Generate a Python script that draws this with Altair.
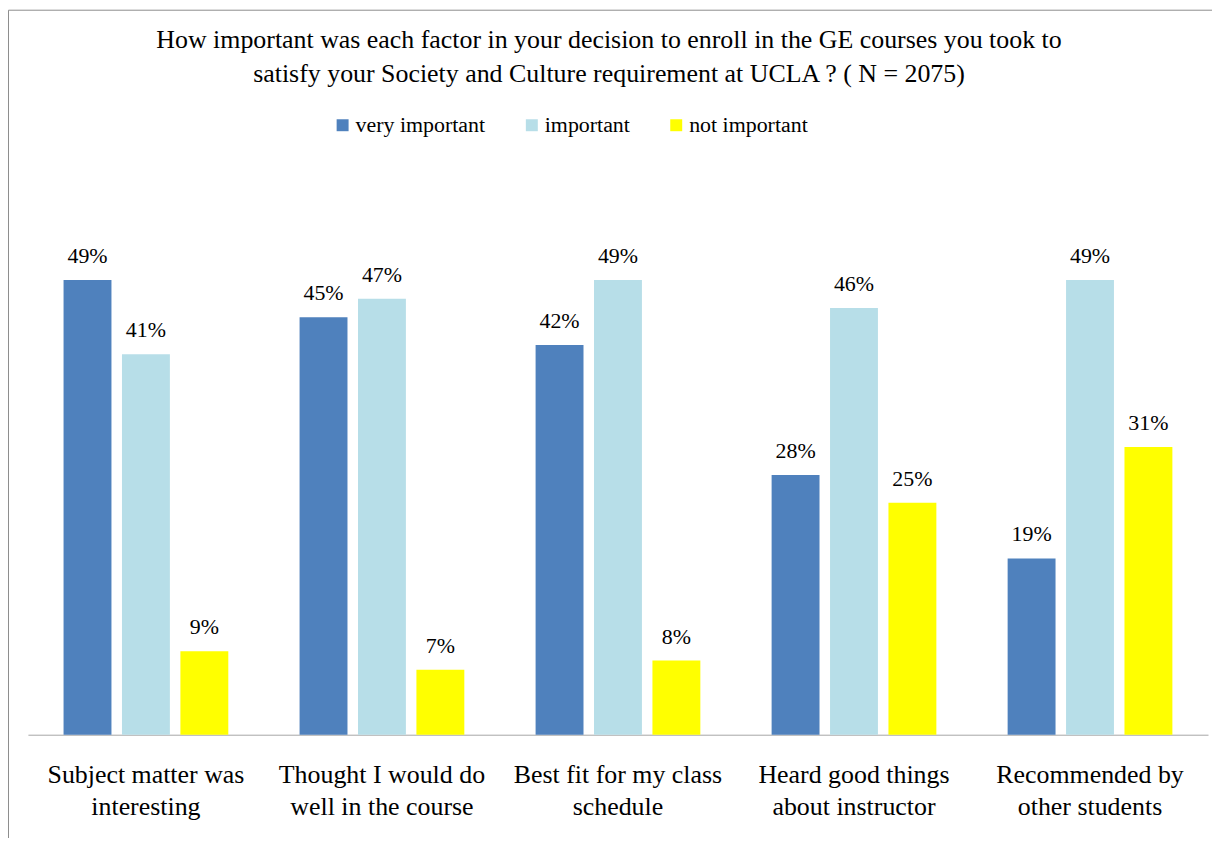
import altair as alt
import pandas as pd

categories = [
    "Subject matter was\ninteresting",
    "Thought I would do\nwell in the course",
    "Best fit for my class\nschedule",
    "Heard good things\nabout instructor",
    "Recommended by\nother students",
]
series = ["very important", "important", "not important"]
very_important = [49, 45, 42, 28, 19]
important = [41, 47, 49, 46, 49]
not_important = [9, 7, 8, 25, 31]
colors = ["#4F81BD", "#B7DEE8", "#FFFF00"]
title_lines = [
    "How important was each factor in your decision to enroll in the GE courses you took to",
    "satisfy your Society and Culture requirement at UCLA ? ( N = 2075)",
]

rows = []
for i, c in enumerate(categories):
    for s, vals in zip(series, [very_important, important, not_important]):
        rows.append({"category": c, "series": s, "value": vals[i]})
df = pd.DataFrame(rows)

FONT = "Liberation Serif"

base = alt.Chart(df).encode(
    x=alt.X(
        "category:N",
        sort=categories,
        scale=alt.Scale(paddingInner=0, paddingOuter=0),
        axis=alt.Axis(
            title=None,
            labelAngle=0,
            labelExpr="split(datum.label, '\\n')",
            labelFont=FONT,
            labelFontSize=26,
            labelColor="#000000",
            labelPadding=27,
            labelLineHeight=32,
            labelLimit=500,
            labelOverlap=False,
            ticks=False,
            domainColor="#A6A6A6",
            domainWidth=1,
            grid=False,
        ),
    ),
    xOffset=alt.XOffset(
        "series:N", sort=series,
        scale=alt.Scale(paddingInner=0.18, paddingOuter=0.61),
    ),
    y=alt.Y("value:Q", scale=alt.Scale(domain=[0, 60]), axis=None),
)

bars = base.mark_bar().encode(
    color=alt.Color(
        "series:N",
        sort=series,
        scale=alt.Scale(domain=series, range=colors),
        legend=alt.Legend(
            orient="none",
            legendX=305,
            legendY=-64,
            direction="horizontal",
            title=None,
            symbolType="square",
            symbolSize=144,
            symbolStrokeWidth=0,
            symbolOpacity=1,
            labelFont=FONT,
            labelFontSize=22,
            labelColor="#000000",
            labelOffset=2,
            columnPadding=35,
            labelLimit=300,
        ),
    )
)

labels = base.transform_calculate(label="datum.value + '%'").mark_text(
    font=FONT, fontSize=22, color="#000000", baseline="alphabetic", dy=-17
).encode(text="label:N")

border = alt.Chart(pd.DataFrame({"a": [0]})).mark_rect(
    fill="transparent", stroke="#8C8C8C", strokeWidth=1
).encode(
    x=alt.value(-19.5), x2=alt.value(1400), y=alt.value(-168.5), y2=alt.value(900)
)

chart = alt.layer(bars, labels, border).properties(
    width=1185,
    height=559,
    autosize=alt.AutoSizeParams(type="none"),
    padding={"left": 20, "top": 169, "right": 4, "bottom": 102},
    title=alt.TitleParams(
        text=title_lines,
        font=FONT,
        fontSize=26,
        fontWeight="normal",
        color="#000000",
        lineHeight=35,
        anchor="middle",
        frame="group",
        offset=-78,
        dx=-9,
    ),
).configure_view(strokeWidth=0)

chart.save("out.html", embed_options={"renderer": "svg", "actions": False})
